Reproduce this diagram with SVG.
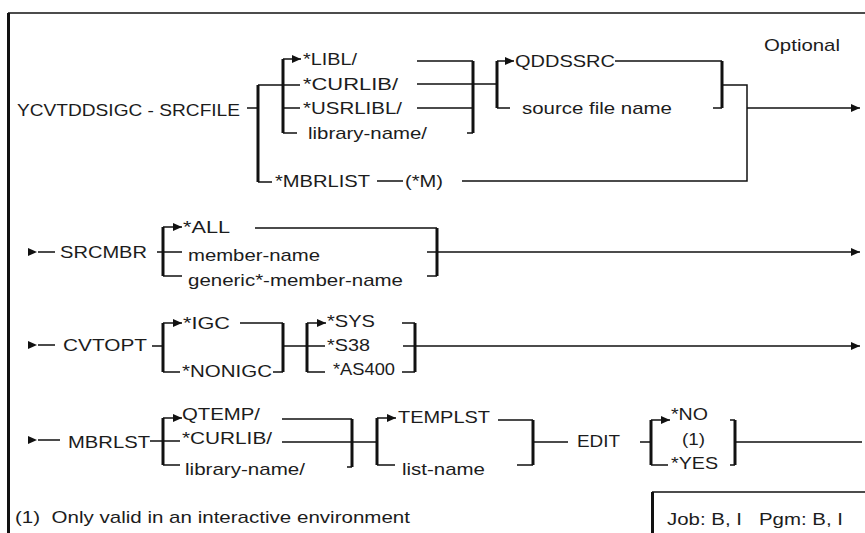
<svg xmlns="http://www.w3.org/2000/svg" width="865" height="533" viewBox="0 0 865 533">
<style>
.t{font-family:"Liberation Sans",Arial,sans-serif;font-size:17px;fill:#1c1c1c}
.l{stroke:#111;stroke-width:1.5;fill:none}
.b{stroke:#111;stroke-width:3;fill:none}
.a{stroke:#111;stroke-width:1.5;fill:none;marker-end:url(#ah)}
.s{fill:#111}
</style>
<defs>
<marker id="ah" markerWidth="10" markerHeight="8" refX="9" refY="4" orient="auto" markerUnits="userSpaceOnUse">
<path d="M0,0 L9,4 L0,8 z" fill="#111"/>
</marker>
<path id="st" d="M0,-4 L9,0 L0,4 z"/>
</defs>
<rect width="865" height="533" fill="#fff"/>
<g id="frame">
<path class="l" d="M8,13 H865" stroke-width="2"/>
<path class="b" d="M8.5,13 V533"/>
<path class="l" d="M652,492 H865" stroke-width="2"/>
<path class="b" d="M652.5,492 V533"/>
</g>
<g id="connectors">
<!-- row 1 -->
<path class="l" d="M247,108 H258"/>
<path class="b" d="M258,85 V182"/>
<path class="l" d="M258,85 H300 M283,108 H300 M283,133 H297 M258,182 H272"/>
<path class="b" d="M283,59 V133"/>
<path class="a" d="M283,59 H301"/>
<path class="l" d="M417,61 H473 M417,84 H497 M417,108 H473 M467,133 H473"/>
<path class="b" d="M473,61 V133"/>
<path class="b" d="M497,61 V108"/>
<path class="a" d="M497,61 H514"/>
<path class="l" d="M497,108 H510 M615,61 H722 M713,108 H722"/>
<path class="b" d="M722,61 V108"/>
<path class="l" d="M722,85 H747 V181 H462 M377,181 H403"/>
<path class="a" d="M747,108 H860"/>
<!-- row 2 -->
<use href="#st" x="28" y="252" class="s"/>
<path class="l" d="M38,252 H55 M157,252 H182"/>
<path class="b" d="M163,227 V276"/>
<path class="a" d="M163,227 H182"/>
<path class="l" d="M163,276 H182 M255,228 H437 M427,276 H437"/>
<path class="b" d="M437,228 V276"/>
<path class="a" d="M427,252 H860"/>
<!-- row 3 -->
<use href="#st" x="28" y="345" class="s"/>
<path class="l" d="M38,345 H55 M152,346 H163"/>
<path class="b" d="M163,323 V372"/>
<path class="a" d="M163,323 H182"/>
<path class="l" d="M163,372 H180 M240,323 H283 M273,372 H283 M283,346 H325"/>
<path class="b" d="M283,323 V372"/>
<path class="b" d="M307,323 V372"/>
<path class="a" d="M307,323 H326"/>
<path class="l" d="M307,372 H325 M402,323 H415 M402,372 H415"/>
<path class="b" d="M415,323 V372"/>
<path class="a" d="M403,346 H860"/>
<!-- row 4 -->
<use href="#st" x="28" y="440" class="s"/>
<path class="l" d="M38,440 H60 M150,441 H180"/>
<path class="b" d="M163,418 V465"/>
<path class="a" d="M163,418 H182"/>
<path class="l" d="M163,465 H180 M282,419 H352 M282,442 H377 M347,467 H352"/>
<path class="b" d="M352,419 V467"/>
<path class="b" d="M377,418 V465"/>
<path class="a" d="M377,418 H396"/>
<path class="l" d="M377,465 H395 M498,420 H533 M517,465 H533 M533,442 H568 M640,442 H651"/>
<path class="b" d="M533,420 V465"/>
<path class="b" d="M651,420 V465"/>
<path class="a" d="M651,420 H670"/>
<path class="l" d="M651,465 H668 M730,420 H735 M730,465 H735 M735,442 H862"/>
<path class="b" d="M735,420 V465"/>
</g>
<g id="n-title"><text class="t" x="17" y="116" font-size="18" textLength="223" lengthAdjust="spacingAndGlyphs">YCVTDDSIGC - SRCFILE</text></g>
<g id="n-libl"><text class="t" x="303" y="65" textLength="54" lengthAdjust="spacingAndGlyphs">*LIBL/</text></g>
<g id="n-curlib1"><text class="t" x="303" y="90" textLength="95" lengthAdjust="spacingAndGlyphs">*CURLIB/</text></g>
<g id="n-usrlibl"><text class="t" x="303" y="114" textLength="99" lengthAdjust="spacingAndGlyphs">*USRLIBL/</text></g>
<g id="n-libname1"><text class="t" x="308" y="139" textLength="119" lengthAdjust="spacingAndGlyphs">library-name/</text></g>
<g id="n-qddssrc"><text class="t" x="515" y="67" textLength="100" lengthAdjust="spacingAndGlyphs">QDDSSRC</text></g>
<g id="n-srcfile"><text class="t" x="522" y="114" textLength="150" lengthAdjust="spacingAndGlyphs">source file name</text></g>
<g id="n-optional"><text class="t" x="764" y="51" textLength="76" lengthAdjust="spacingAndGlyphs">Optional</text></g>
<g id="n-mbrlist"><text class="t" x="275" y="187" textLength="95" lengthAdjust="spacingAndGlyphs">*MBRLIST</text></g>
<g id="n-m"><text class="t" x="405" y="187" textLength="38" lengthAdjust="spacingAndGlyphs">(*M)</text></g>
<g id="n-srcmbr"><text class="t" x="60" y="258" textLength="87" lengthAdjust="spacingAndGlyphs">SRCMBR</text></g>
<g id="n-all"><text class="t" x="183" y="233" textLength="47" lengthAdjust="spacingAndGlyphs">*ALL</text></g>
<g id="n-member"><text class="t" x="188" y="261" textLength="132" lengthAdjust="spacingAndGlyphs">member-name</text></g>
<g id="n-generic"><text class="t" x="188" y="286" textLength="215" lengthAdjust="spacingAndGlyphs">generic*-member-name</text></g>
<g id="n-cvtopt"><text class="t" x="63" y="351" textLength="84" lengthAdjust="spacingAndGlyphs">CVTOPT</text></g>
<g id="n-igc"><text class="t" x="183" y="329" textLength="47" lengthAdjust="spacingAndGlyphs">*IGC</text></g>
<g id="n-nonigc"><text class="t" x="182" y="377" textLength="90" lengthAdjust="spacingAndGlyphs">*NONIGC</text></g>
<g id="n-sys"><text class="t" x="327" y="327" textLength="48" lengthAdjust="spacingAndGlyphs">*SYS</text></g>
<g id="n-s38"><text class="t" x="327" y="351" textLength="43" lengthAdjust="spacingAndGlyphs">*S38</text></g>
<g id="n-as400"><text class="t" x="333" y="375" textLength="62" lengthAdjust="spacingAndGlyphs">*AS400</text></g>
<g id="n-mbrlst"><text class="t" x="68" y="448" textLength="82" lengthAdjust="spacingAndGlyphs">MBRLST</text></g>
<g id="n-qtemp"><text class="t" x="182" y="420" textLength="78" lengthAdjust="spacingAndGlyphs">QTEMP/</text></g>
<g id="n-curlib2"><text class="t" x="182" y="444" textLength="90" lengthAdjust="spacingAndGlyphs">*CURLIB/</text></g>
<g id="n-libname2"><text class="t" x="185" y="475" textLength="120" lengthAdjust="spacingAndGlyphs">library-name/</text></g>
<g id="n-templst"><text class="t" x="398" y="423" textLength="92" lengthAdjust="spacingAndGlyphs">TEMPLST</text></g>
<g id="n-listname"><text class="t" x="402" y="475" textLength="83" lengthAdjust="spacingAndGlyphs">list-name</text></g>
<g id="n-edit"><text class="t" x="577" y="447" textLength="43" lengthAdjust="spacingAndGlyphs">EDIT</text></g>
<g id="n-no"><text class="t" x="671" y="420" textLength="37" lengthAdjust="spacingAndGlyphs">*NO</text></g>
<g id="n-one"><text class="t" x="682" y="445" textLength="23" lengthAdjust="spacingAndGlyphs">(1)</text></g>
<g id="n-yes"><text class="t" x="671" y="469" textLength="47" lengthAdjust="spacingAndGlyphs">*YES</text></g>
<g id="n-footnote"><text class="t" x="15" y="523" xml:space="preserve" textLength="395" lengthAdjust="spacingAndGlyphs">(1)  Only valid in an interactive environment</text></g>
<g id="n-job"><text class="t" x="667" y="525" xml:space="preserve" textLength="176" lengthAdjust="spacingAndGlyphs">Job: B, I   Pgm: B, I</text></g>
</svg>
